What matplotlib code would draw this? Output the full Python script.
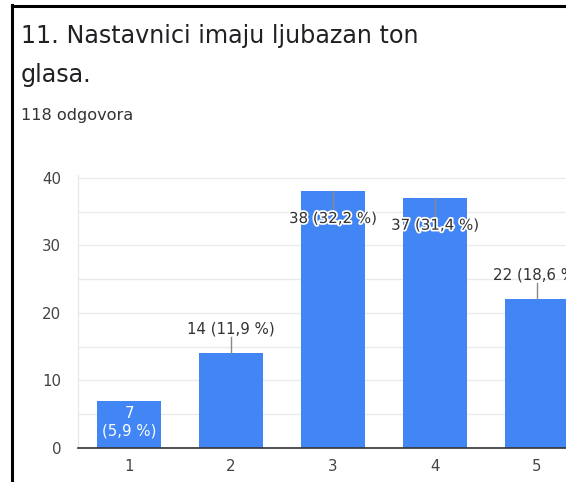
import matplotlib

matplotlib.use("Agg")
import matplotlib.pyplot as plt
import matplotlib.patheffects as pe
from matplotlib.lines import Line2D

# the screenshot's text is wide; DejaVu Sans is the closest wide face
plt.rcParams["font.family"] = ["DejaVu Sans"]

TITLE_1 = "11. Nastavnici imaju ljubazan ton"
TITLE_2 = "glasa."
SUBTITLE = "118 odgovora"
categories = ["1", "2", "3", "4", "5"]
counts = [7, 14, 38, 37, 22]
percents = ["5,9", "11,9", "32,2", "31,4", "18,6"]

BLUE = "#4285f4"
PX_PER_UNIT = 6.75  # vertical pixels per count unit
FS = 10.8

fig = plt.figure(figsize=(5.66, 4.82), dpi=100)
fig.patch.set_facecolor("white")

# screenshot frame (left + top black border)
fig.add_artist(Line2D([11.5 / 566, 11.5 / 566], [0, 1 - 5 / 482], color="black", lw=2.2))
fig.add_artist(Line2D([11.5 / 566, 1], [1 - 6 / 482, 1 - 6 / 482], color="black", lw=2.2))

fig.text(21 / 566, 1 - 43 / 482, TITLE_1, fontsize=17.2, color="#202124", va="baseline")
fig.text(21 / 566, 1 - 82 / 482, TITLE_2, fontsize=17.2, color="#202124", va="baseline")
fig.text(21 / 566, 1 - 120 / 482, SUBTITLE, fontsize=11.6, color="#333333", va="baseline")

ax = fig.add_axes([78 / 566, 34 / 482, 1 - 78 / 566, (448 - 174.6) / 482])
x = list(range(1, len(categories) + 1))
ax.bar(x, counts, width=0.62, color=BLUE, zorder=3)

ax.set_xlim(0.5, 0.5 + (566 - 78) / 102)
ax.set_ylim(0, 40.5)
ax.set_yticks([0, 10, 20, 30, 40])
ax.set_yticks([5, 15, 25, 35], minor=True)
ax.set_xticks(x)
ax.set_xticklabels(categories)
ax.grid(axis="y", which="both", color="#ebebeb", lw=1, zorder=0)
ax.tick_params(axis="both", which="both", length=0, labelsize=FS, colors="#444444")
ax.tick_params(axis="y", pad=12)
ax.tick_params(axis="x", pad=8)
for s in ["top", "right"]:
    ax.spines[s].set_visible(False)
ax.spines["left"].set_color("#e6e6e6")
ax.spines["bottom"].set_color("#333333")
ax.spines["bottom"].set_linewidth(1.2)
ax.spines["bottom"].set_zorder(4)

halo = [pe.withStroke(linewidth=2.5, foreground="white")]
for xi, v, p in zip(x, counts, percents):
    if v < 10:
        ax.text(xi, v / 2 + 0.35, f"{v}\n({p} %)", ha="center", va="center",
                color="white", fontsize=FS, linespacing=1.2, zorder=5)
    elif v > 30:
        ax.plot([xi, xi], [v, v - 18 / PX_PER_UNIT], color="#888888", lw=1, zorder=4)
        ax.text(xi, v - 27 / PX_PER_UNIT, f"{v} ({p} %)", ha="center", va="center",
                color="#333333", fontsize=FS, zorder=5, path_effects=halo)
    else:
        ax.plot([xi, xi], [v, v + 16 / PX_PER_UNIT], color="#888888", lw=1, zorder=4)
        ax.text(xi, v + 24 / PX_PER_UNIT, f"{v} ({p} %)", ha="center", va="center",
                color="#333333", fontsize=FS, zorder=5, clip_on=False)

fig.savefig("out.png", dpi=100)
plt.close(fig)
